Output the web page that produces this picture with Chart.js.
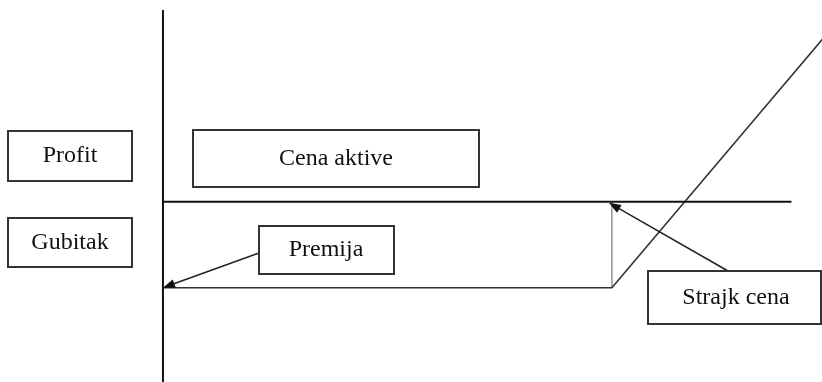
<!DOCTYPE html>
<html><head><meta charset="utf-8">
<script src="https://cdn.jsdelivr.net/npm/chart.js@4/dist/chart.umd.min.js"></script>
<style>html,body{margin:0;padding:0;background:#fff;overflow:hidden}canvas{display:block}</style>
</head><body>
<canvas id="c" width="822" height="382"></canvas>
<script>
// Long call payoff: asset price vs profit/loss
const assetPrice = [0, 100, 150];
const profitLoss = [-16.2, -16.2, 33.8];
const strikePrice = 100;
const premium = 16.2;
const priceAxisEnds = [0, 140];
const profitAxisEnds = [-34, 36.2];
const labels = ['Profit', 'Gubitak', 'Cena aktive', 'Premija', 'Strajk cena'];

const payoffPoints = assetPrice.map((p, i) => ({x: p, y: profitLoss[i]}));

// layout of the label boxes (pixels): x, y, w, h, textCenterX
const boxLayout = [
  [8, 131, 124, 50, 70],
  [8, 218, 124, 49, 70],
  [193, 130, 286, 57, 336],
  [259, 226, 135, 48, 326],
  [648, 271, 173, 53, 736]
];

function arrow(ctx, x1, y1, x2, y2) {
  const a = Math.atan2(y2 - y1, x2 - x1);
  const L = 12, W = 4.5;
  ctx.beginPath();
  ctx.moveTo(x1, y1);
  ctx.lineTo(x2 - Math.cos(a) * L * 0.6, y2 - Math.sin(a) * L * 0.6);
  ctx.stroke();
  ctx.beginPath();
  ctx.moveTo(x2, y2);
  ctx.lineTo(x2 - Math.cos(a) * L - Math.sin(a) * W, y2 - Math.sin(a) * L + Math.cos(a) * W);
  ctx.lineTo(x2 - Math.cos(a) * L + Math.sin(a) * W, y2 - Math.sin(a) * L - Math.cos(a) * W);
  ctx.closePath();
  ctx.fill();
}

const overlay = {
  id: 'overlay',
  afterDatasetsDraw(chart) {
    const ctx = chart.ctx, xs = chart.scales.x, ys = chart.scales.y;
    ctx.save();
    ctx.strokeStyle = '#222';
    ctx.fillStyle = '#111';
    ctx.lineWidth = 1.5;
    arrow(ctx, 259, 253, xs.getPixelForValue(0), ys.getPixelForValue(-premium));
    arrow(ctx, 728, 271, xs.getPixelForValue(strikePrice) - 3, ys.getPixelForValue(0) + 1);
    ctx.font = '24px "Liberation Serif", "Times New Roman", serif';
    ctx.textAlign = 'center';
    ctx.textBaseline = 'alphabetic';
    boxLayout.forEach((b, i) => {
      ctx.fillStyle = '#fff';
      ctx.fillRect(b[0], b[1], b[2], b[3]);
      ctx.strokeStyle = '#333';
      ctx.lineWidth = 2;
      ctx.strokeRect(b[0], b[1], b[2], b[3]);
      ctx.fillStyle = '#111';
      ctx.fillText(labels[i], b[4], b[1] + b[3] / 2 + 6);
    });
    ctx.restore();
  }
};

new Chart(document.getElementById('c'), {
  type: 'scatter',
  data: {
    datasets: [
      {data: [{x: 0, y: profitAxisEnds[1]}, {x: 0, y: profitAxisEnds[0]}], borderColor: '#111', borderWidth: 2},
      {data: [{x: priceAxisEnds[0], y: 0}, {x: priceAxisEnds[1], y: 0}], borderColor: '#111', borderWidth: 2},
      {data: payoffPoints, borderColor: '#333', borderWidth: 1.6},
      {data: [{x: strikePrice, y: 0}, {x: strikePrice, y: -premium}], borderColor: '#777', borderWidth: 1.2}
    ].map(d => Object.assign(d, {showLine: true, pointRadius: 0, fill: false, tension: 0}))
  },
  options: {
    responsive: false,
    devicePixelRatio: 1,
    animation: false,
    events: [],
    layout: {padding: 0},
    plugins: {legend: {display: false}, tooltip: {enabled: false}},
    scales: {
      x: {type: 'linear', min: -36.3, max: 146.8, display: false},
      y: {type: 'linear', min: -34.0, max: 38.1, display: false}
    }
  },
  plugins: [overlay]
});
</script>
</body></html>
